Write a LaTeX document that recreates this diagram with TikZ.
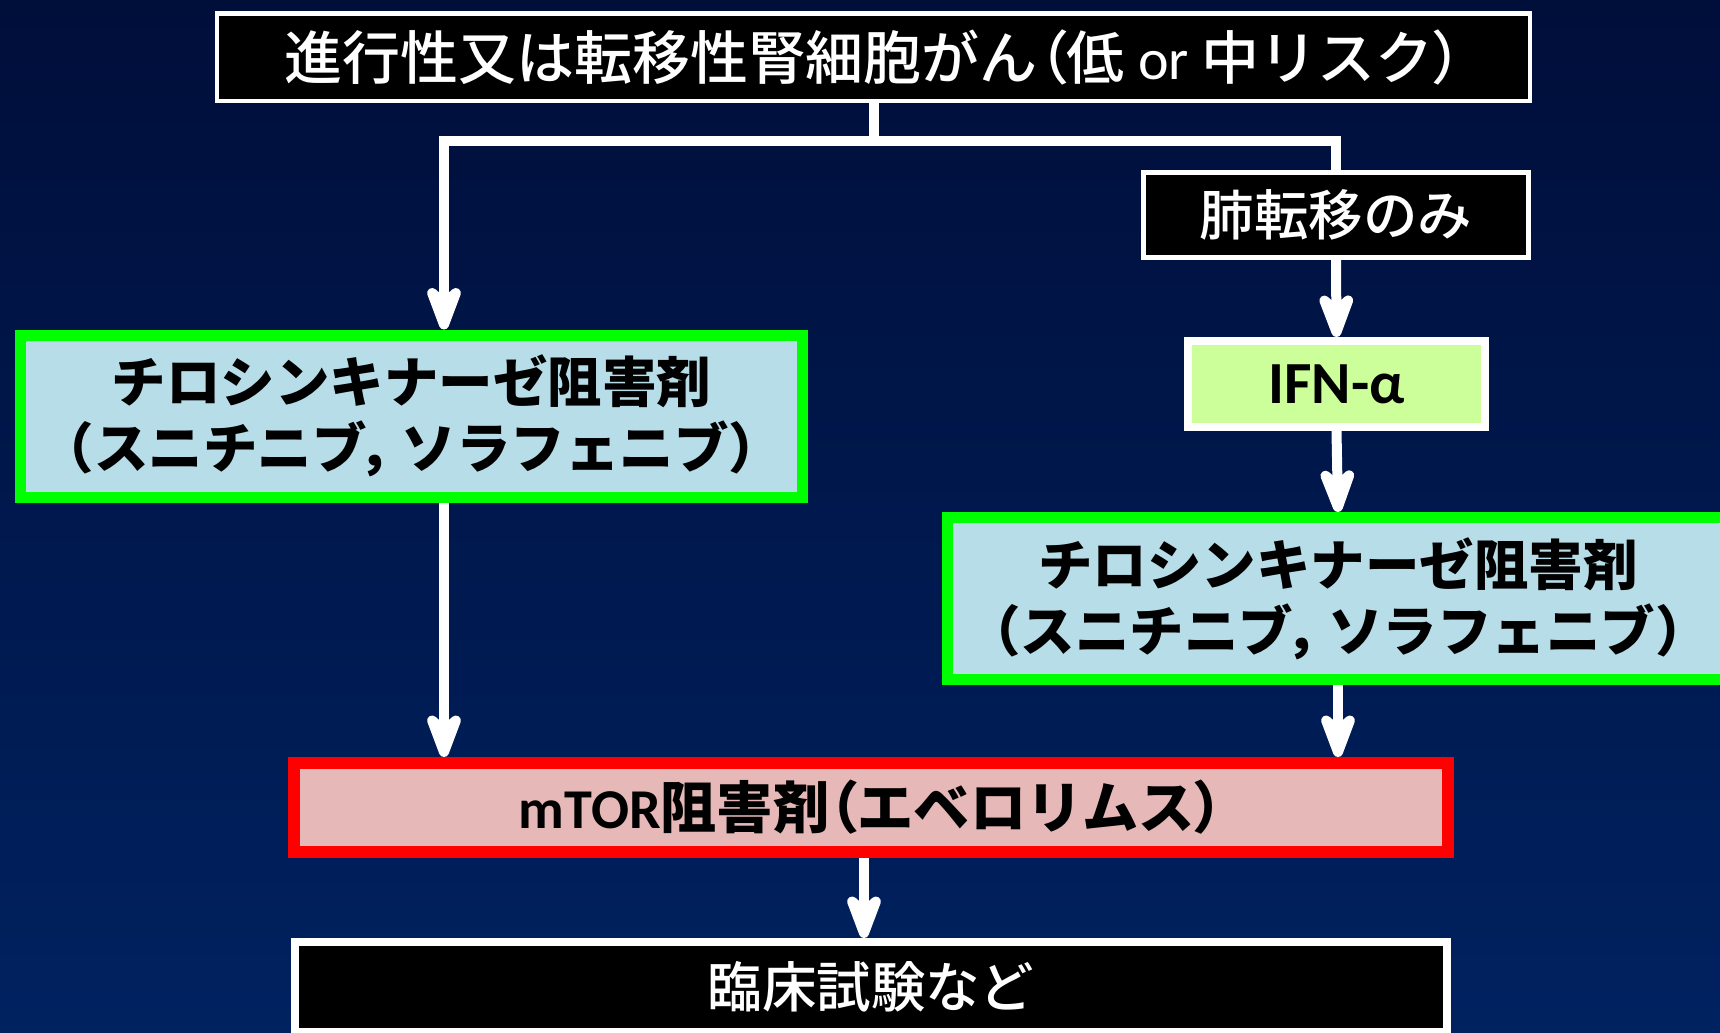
\documentclass[tikz,border=0pt]{standalone}
\usepackage{fontspec}
\setmainfont{Carlito}
\newfontfamily\jp{Noto Sans CJK JP}
\newfontfamily\jpmed{Noto Sans CJK JP Medium}
\newcommand{\narrowch}[1]{{\addfontfeature{RawFeature=+palt}#1}}
\usetikzlibrary{arrows.meta}
\definecolor{bgtop}{RGB}{0,14,58}
\definecolor{bgbot}{RGB}{0,34,96}
\definecolor{tkifill}{RGB}{183,222,232}
\definecolor{tkiedge}{RGB}{0,255,0}
\definecolor{ifnfill}{RGB}{204,255,153}
\definecolor{mtorfill}{RGB}{230,185,184}

\begin{document}
\begin{tikzpicture}[
        box/.style={rectangle,inner sep=0pt,align=center,font=\fontsize{15.5}{18.8}\selectfont},
        darkbox/.style={box,draw=white,fill=black,text=white},
        tkibox/.style={box,draw=tkiedge,fill=tkifill,line width=1.1mm,minimum width=7.82cm,minimum height=1.62cm,font=\fontsize{15.5}{18.8}\selectfont\jp\bfseries},
        link/.style={white,line width=1mm},
        arr/.style={link,-{Stealth[length=6.2mm,width=4.6mm,inset=2mm,round]}}]
        \useasboundingbox (0,0) rectangle (17.2,-10.32);
        \clip (0,0) rectangle (17.2,-10.32);
        \shade[top color=bgtop,bottom color=bgbot] (0,0) rectangle (17.2,-10.32);

        \node[darkbox,font=\fontsize{16.5}{19}\selectfont,line width=0.45mm,minimum width=13.13cm,minimum height=0.875cm] (top) at (8.735,-0.57) {{\jpmed 進行性又は転移性腎細胞がん\narrowch{（}低} or {\jpmed 中リスク\narrowch{）}}};
        \node[darkbox,font=\fontsize{15.5}{18.8}\selectfont\jpmed,line width=0.5mm,minimum width=3.85cm,minimum height=0.85cm] (lung) at (13.36,-2.15) {肺転移のみ};
        \node[box,draw=white,fill=ifnfill,line width=0.8mm,minimum width=2.97cm,minimum height=0.86cm,font=\fontsize{17}{19}\selectfont\bfseries] (ifn) at (13.365,-3.84) {IFN-α};
        \node[tkibox] (tkiL) at (4.115,-4.16) {チロシンキナーゼ阻害剤\\（スニチニブ\narrowch{，}\kern0.15em ソラフェニブ）};
        \node[tkibox] (tkiR) at (13.38,-5.985) {チロシンキナーゼ阻害剤\\（スニチニブ\narrowch{，}\kern0.15em ソラフェニブ）};
        \node[box,draw=red,fill=mtorfill,line width=1.2mm,minimum width=11.54cm,minimum height=0.89cm,font=\fontsize{16}{19}\selectfont\bfseries] (mtor) at (8.71,-8.075) {mTOR{\jp 阻害剤\narrowch{（}エベロリムス\narrowch{）}}};
        \node[darkbox,font=\fontsize{15.5}{18.8}\selectfont\jpmed,line width=0.8mm,minimum width=11.52cm,minimum height=0.90cm] (trial) at (8.71,-9.87) {臨床試験など};

        \coordinate (fork) at (8.735,-1.41);
        \coordinate (lx) at (4.44,0);
        \coordinate (mx) at (8.64,0);

        \draw[link] (top.south) -- (fork);
        \draw[arr] (fork) -| (tkiL.north -| lx);
        \draw[link] (fork) -| (lung.north);
        \draw[arr] (lung.south) -- (ifn.north);
        \draw[arr] (ifn.south) -- (tkiR.north);
        \draw[arr] (tkiL.south -| lx) -- (mtor.north -| lx);
        \draw[arr] (tkiR.south) -- (tkiR.south |- mtor.north);
        \draw[arr] (mtor.south -| mx) -- (trial.north -| mx);
    \end{tikzpicture}
\end{document}
